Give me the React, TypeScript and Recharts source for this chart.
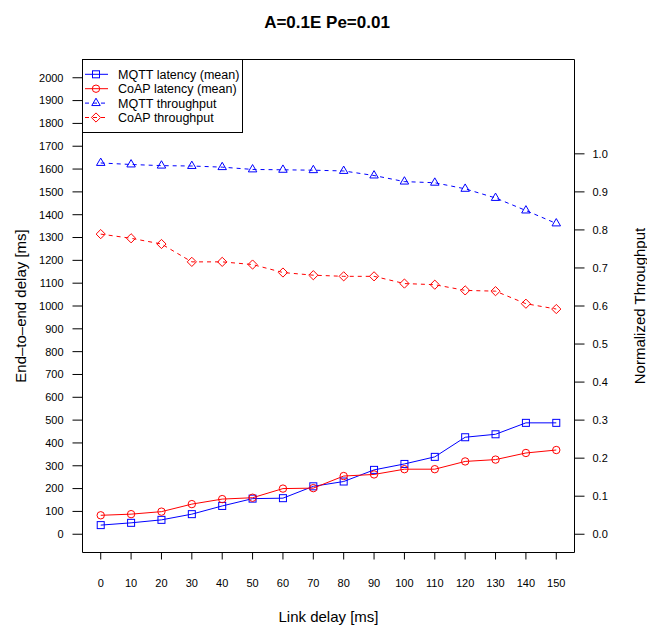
import { ComposedChart, Line, XAxis, YAxis, ReferenceArea, Legend } from 'recharts';

const FONT = '"Liberation Sans", Arial, Helvetica, sans-serif';
const BLUE = '#0000ff';
const RED = '#ff0000';

// link delay [ms] on the x axis
const linkDelay = [0, 10, 20, 30, 40, 50, 60, 70, 80, 90, 100, 110, 120, 130, 140, 150];

// end-to-end delay [ms], left axis
const mqttLatency = [40, 50, 63, 88, 124, 156, 158, 210, 231, 282, 308, 339, 425, 438, 488, 488];
const coapLatency = [83, 88, 99, 132, 154, 160, 200, 202, 255, 262, 285, 285, 319, 327, 356, 369];

// normalized throughput, right axis
const mqttThroughput = [0.976, 0.972, 0.969, 0.968, 0.965, 0.959, 0.958, 0.957, 0.955, 0.943, 0.927, 0.924, 0.908, 0.884, 0.851, 0.817];
const coapThroughput = [0.789, 0.778, 0.763, 0.716, 0.716, 0.709, 0.688, 0.681, 0.678, 0.678, 0.659, 0.656, 0.641, 0.639, 0.606, 0.592];

const delayTicks = linkDelay;
const latencyTicks = [0, 100, 200, 300, 400, 500, 600, 700, 800, 900, 1000, 1100, 1200, 1300, 1400, 1500, 1600, 1700, 1800, 1900, 2000];
const throughputTicks = [0, 0.1, 0.2, 0.3, 0.4, 0.5, 0.6, 0.7, 0.8, 0.9, 1.0];

const rows = linkDelay.map((d, i) => ({
    delay: d,
    mqttLat: mqttLatency[i],
    coapLat: coapLatency[i],
    mqttThr: mqttThroughput[i],
    coapThr: coapThroughput[i],
}));

// open point symbols, R style
const Square = ({ cx, cy, color }: any) => (
    <rect x={cx - 3.5} y={cy - 3.5} width={7} height={7} fill="none" stroke={color} strokeWidth={1} />
);
const Circle = ({ cx, cy, color }: any) => (
    <circle cx={cx} cy={cy} r={3.7} fill="none" stroke={color} strokeWidth={1} />
);
const Triangle = ({ cx, cy, color }: any) => {
    const r = 4.9;
    const xc = (r * Math.sqrt(3)) / 2;
    return (
        <polygon
            points={`${cx},${cy - r} ${cx + xc},${cy + r / 2} ${cx - xc},${cy + r / 2}`}
            fill="none"
            stroke={color}
            strokeWidth={1}
        />
    );
};
const Diamond = ({ cx, cy, color }: any) => {
    const r = 4.6;
    return (
        <polygon
            points={`${cx},${cy - r} ${cx + r},${cy} ${cx},${cy + r} ${cx - r},${cy}`}
            fill="none"
            stroke={color}
            strokeWidth={1}
        />
    );
};

const dotOf = (Shape: any, color: string) => (p: any) => (
    <Shape key={`pt-${p.index}`} cx={p.cx} cy={p.cy} color={color} />
);

const legendItems = [
    { label: 'MQTT latency (mean)', color: BLUE, dash: undefined, Shape: Square },
    { label: 'CoAP latency (mean)', color: RED, dash: undefined, Shape: Circle },
    { label: 'MQTT throughput', color: BLUE, dash: '4 4', Shape: Triangle },
    { label: 'CoAP throughput', color: RED, dash: '4 4', Shape: Diamond },
];

const renderLegend = () => (
    <svg width={162} height={75} style={{ display: 'block' }}>
        <rect x={0.5} y={0.5} width={160} height={73} fill="#fff" stroke="#000" strokeWidth={1} />
        {legendItems.map((it, i) => {
            const y = 15.3 + i * 14.4;
            return (
                <g key={it.label}>
                    <line x1={3} x2={26} y1={y} y2={y} stroke={it.color} strokeWidth={1} strokeDasharray={it.dash} />
                    <it.Shape cx={14} cy={y} color={it.color} />
                    <text x={36} y={y + 4.4} fontSize={12.5} fontFamily={FONT} fill="#000">
                        {it.label}
                    </text>
                </g>
            );
        })}
    </svg>
);

const xTitle = () => (
    <text x={328.5} y={622} textAnchor="middle" fontSize={15} fontFamily={FONT} fill="#000">
        Link delay [ms]
    </text>
);
const leftTitle = () => (
    <text x={20} y={306} transform="rotate(-90, 20, 306)" textAnchor="middle" dominantBaseline="central" fontSize={15} fontFamily={FONT} fill="#000">
        End–to–end delay [ms]
    </text>
);
const rightTitle = () => (
    <text x={639} y={306} transform="rotate(-90, 639, 306)" textAnchor="middle" dominantBaseline="central" fontSize={15} fontFamily={FONT} fill="#000">
        Normalized Throughput
    </text>
);

const tickStyle = { fontSize: 11, fill: '#000', fontFamily: FONT };

export default function App() {
    return (
        <div style={{ position: 'absolute', left: 0, top: 0, width: 647, height: 625, background: '#fff' }}>
            <svg width={647} height={40} style={{ position: 'absolute', left: 0, top: 0, zIndex: 1, pointerEvents: 'none' }}>
                <text x={327} y={27.5} textAnchor="middle" fontSize={17} fontWeight="bold" fontFamily={FONT} fill="#000">
                    A=0.1E Pe=0.01
                </text>
            </svg>
            <ComposedChart
                width={647}
                height={625}
                data={rows}
                margin={{ top: 59.5, right: 0, bottom: 0, left: 0 }}
            >
                <XAxis
                    dataKey="delay"
                    type="number"
                    domain={[-6, 156]}
                    ticks={delayTicks}
                    interval={0}
                    allowDataOverflow
                    axisLine={false}
                    tickLine={{ stroke: '#000' }}
                    tickSize={7}
                    tickMargin={20}
                    tick={tickStyle}
                    height={72.5}
                    label={xTitle}
                />
                <YAxis
                    yAxisId="left"
                    domain={[-80, 2080]}
                    ticks={latencyTicks}
                    interval={0}
                    allowDataOverflow
                    axisLine={false}
                    tickLine={{ stroke: '#000' }}
                    tickSize={10}
                    tickMargin={9}
                    tick={tickStyle}
                    width={82.5}
                    label={leftTitle}
                />
                <YAxis
                    yAxisId="right"
                    orientation="right"
                    domain={[-0.048, 1.248]}
                    ticks={throughputTicks}
                    interval={0}
                    allowDataOverflow
                    axisLine={false}
                    tickLine={{ stroke: '#000' }}
                    tickSize={10}
                    tickMargin={8}
                    tick={tickStyle}
                    tickFormatter={(v: number) => v.toFixed(1)}
                    width={72.5}
                    label={rightTitle}
                />
                <ReferenceArea
                    yAxisId="left"
                    x1={-6}
                    x2={156}
                    y1={-80}
                    y2={2080}
                    fill="none"
                    stroke="#000"
                    strokeWidth={1}
                    ifOverflow="visible"
                />
                <Line
                    yAxisId="left"
                    type="linear"
                    dataKey="mqttLat"
                    name="MQTT latency (mean)"
                    stroke={BLUE}
                    strokeWidth={1}
                    dot={dotOf(Square, BLUE)}
                    activeDot={false}
                    isAnimationActive={false}
                />
                <Line
                    yAxisId="left"
                    type="linear"
                    dataKey="coapLat"
                    name="CoAP latency (mean)"
                    stroke={RED}
                    strokeWidth={1}
                    dot={dotOf(Circle, RED)}
                    activeDot={false}
                    isAnimationActive={false}
                />
                <Line
                    yAxisId="right"
                    type="linear"
                    dataKey="mqttThr"
                    name="MQTT throughput"
                    stroke={BLUE}
                    strokeWidth={1}
                    strokeDasharray="4 4"
                    dot={dotOf(Triangle, BLUE)}
                    activeDot={false}
                    isAnimationActive={false}
                />
                <Line
                    yAxisId="right"
                    type="linear"
                    dataKey="coapThr"
                    name="CoAP throughput"
                    stroke={RED}
                    strokeWidth={1}
                    strokeDasharray="4 4"
                    dot={dotOf(Diamond, RED)}
                    activeDot={false}
                    isAnimationActive={false}
                />
                <Legend
                    layout="vertical"
                    align="center"
                    verticalAlign="middle"
                    content={renderLegend}
                    wrapperStyle={{ left: 82, top: 59, width: 162, height: 75, margin: 0, padding: 0 }}
                />
            </ComposedChart>
        </div>
    );
}
